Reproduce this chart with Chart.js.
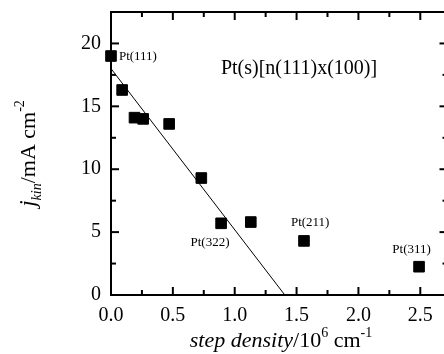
<!DOCTYPE html>
<html>
<head>
<meta charset="utf-8">
<script src="https://cdn.jsdelivr.net/npm/chart.js@4.4.1/dist/chart.umd.min.js"></script>
<style>
  html, body { margin: 0; padding: 0; background: #fff; overflow: hidden; }
  #wrap { width: 444px; height: 354px; overflow: hidden; position: relative; }
  #chart { position: absolute; left: 0; top: 0; }
</style>
</head>
<body>
<div id="wrap"><canvas id="chart" width="456" height="354"></canvas></div>
<script>
// step density (10^6 cm^-1) and kinetic current (mA cm^-2)
const stepDensity = [0.0, 0.09, 0.19, 0.26, 0.47, 0.73, 0.89, 1.13, 1.56, 2.49];
const jKin = [19.0, 16.3, 14.1, 14.0, 13.6, 9.3, 5.7, 5.8, 4.3, 2.25];

// linear fit through the low step density points
const fitX = [0.0, 1.405];
const fitY = [18.0, 0.0];

const xTicks = [0, 0.5, 1.0, 1.5, 2.0, 2.5];
const yTicks = [0, 5, 10, 15, 20];

// annotation texts and where they sit (data units)
const labelTexts = ['Pt(111)', 'Pt(s)[n(111)x(100)]', 'Pt(322)', 'Pt(211)', 'Pt(311)'];
const labelX = [0.064, 1.52, 0.80, 1.61, 2.43];
const labelY = [18.97, 18.0, 4.18, 5.74, 3.65];

const SERIF = "'Liberation Serif', 'Times New Roman', serif";

const framePlugin = {
    id: 'frame',
    afterDatasetsDraw(chart) {
        const { ctx, chartArea: a, scales: { x, y } } = chart;
        ctx.save();
        ctx.strokeStyle = '#000';
        ctx.lineWidth = 2;
        ctx.strokeRect(a.left, a.top, a.right - a.left, a.bottom - a.top);

        const tick = (px, py, dx, dy) => {
            ctx.beginPath();
            ctx.moveTo(px, py);
            ctx.lineTo(px + dx, py + dy);
            ctx.stroke();
        };
        // x ticks, major and minor, bottom and top
        xTicks.forEach(v => {
            const px = x.getPixelForValue(v);
            tick(px, a.bottom, 0, -8);
            tick(px, a.top, 0, 8);
            const m = x.getPixelForValue(v + 0.25);
            if (m < a.right) {
                tick(m, a.bottom, 0, -5);
                tick(m, a.top, 0, 5);
            }
        });
        yTicks.forEach(v => {
            const py = y.getPixelForValue(v);
            tick(a.left, py, 8, 0);
            tick(a.right, py, -8, 0);
            const m = y.getPixelForValue(v + 2.5);
            if (m > a.top) {
                tick(a.left, m, 5, 0);
                tick(a.right, m, -5, 0);
            }
        });

        // annotations
        ctx.fillStyle = '#000';
        ctx.textBaseline = 'middle';
        labelTexts.forEach((t, i) => {
            const big = i === 1;
            ctx.font = (big ? '20px ' : '13px ') + SERIF;
            ctx.textAlign = i === 0 ? 'left' : 'center';
            ctx.fillText(t, x.getPixelForValue(labelX[i]), y.getPixelForValue(labelY[i]));
        });

        // axis titles with sub/superscripts
        const runs = (parts, startX, baseY) => {
            let cx = startX;
            parts.forEach(p => {
                ctx.font = p.f;
                ctx.fillText(p.t, cx, baseY + (p.dy || 0));
                cx += ctx.measureText(p.t).width;
            });
        };
        const width = parts => parts.reduce((s, p) => { ctx.font = p.f; return s + ctx.measureText(p.t).width; }, 0);

        ctx.textAlign = 'left';
        ctx.textBaseline = 'alphabetic';
        const xt = [
            { t: 'step density', f: 'italic 22px ' + SERIF },
            { t: '/10', f: '22px ' + SERIF },
            { t: '6', f: '14px ' + SERIF, dy: -10 },
            { t: ' cm', f: '22px ' + SERIF },
            { t: '-1', f: '14px ' + SERIF, dy: -10 }
        ];
        runs(xt, 281 - width(xt) / 2, 347);

        const yt = [
            { t: 'j', f: 'italic 23px ' + SERIF },
            { t: 'kin', f: 'italic 14px ' + SERIF, dy: 6 },
            { t: '/mA cm', f: '22px ' + SERIF },
            { t: '-2', f: '14px ' + SERIF, dy: -11 }
        ];
        ctx.translate(35, (a.top + a.bottom) / 2);
        ctx.rotate(-Math.PI / 2);
        runs(yt, -width(yt) / 2, 0);
        ctx.restore();
    }
};

new Chart(document.getElementById('chart'), {
    type: 'scatter',
    data: {
        datasets: [
            {
                label: 'data',
                data: stepDensity.map((v, i) => ({ x: v, y: jKin[i] })),
                pointStyle: 'rect',
                pointRadius: 7.5,
                pointHoverRadius: 7.5,
                backgroundColor: '#000',
                borderColor: '#000',
                borderWidth: 1,
                clip: false
            },
            {
                label: 'fit',
                type: 'line',
                data: fitX.map((v, i) => ({ x: v, y: fitY[i] })),
                borderColor: '#000',
                borderWidth: 1,
                pointRadius: 0,
                fill: false
            }
        ]
    },
    options: {
        responsive: false,
        animation: false,
        layout: { padding: { top: 12, right: 5, left: 0, bottom: 0 } },
        plugins: {
            legend: { display: false },
            tooltip: { enabled: false }
        },
        scales: {
            x: {
                type: 'linear',
                min: 0,
                max: 2.72,
                grid: { display: false, drawTicks: false },
                border: { display: false },
                afterFit: s => { s.height = 59; s.paddingLeft = 0; s.paddingRight = 0; },
                afterBuildTicks: s => { s.ticks = xTicks.map(v => ({ value: v })); },
                ticks: {
                    color: '#000',
                    padding: 9,
                    maxRotation: 0,
                    font: { family: SERIF, size: 20 },
                    callback: v => v.toFixed(1)
                }
            },
            y: {
                type: 'linear',
                min: 0,
                max: 22.5,
                grid: { display: false, drawTicks: false },
                border: { display: false },
                afterFit: s => { s.width = 111; s.paddingTop = 0; s.paddingBottom = 0; },
                afterBuildTicks: s => { s.ticks = yTicks.map(v => ({ value: v })); },
                ticks: {
                    color: '#000',
                    padding: 10,
                    font: { family: SERIF, size: 20 },
                    callback: v => String(v)
                }
            }
        }
    },
    plugins: [framePlugin]
});
</script>
</body>
</html>
